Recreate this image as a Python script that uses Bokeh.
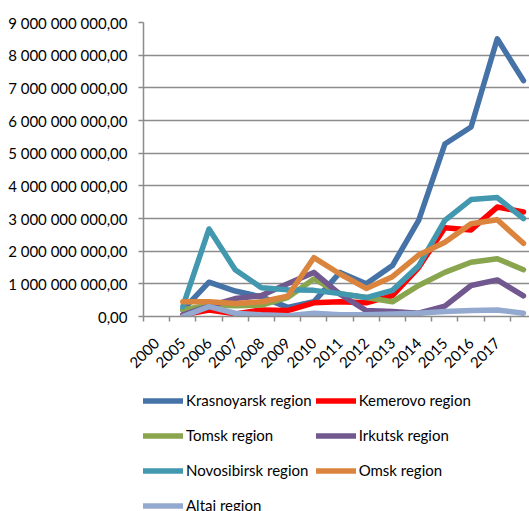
import numpy as np
from bokeh.plotting import figure
from bokeh.layouts import column
from bokeh.models import Range1d, FixedTicker, Legend, LegendItem
from bokeh.embed import file_html
from bokeh.resources import INLINE

nan = float("nan")

# band labels on the x axis (last band is unlabeled in the picture)
categories = ["2000", "2005", "2006", "2007", "2008", "2009", "2010", "2011",
              "2012", "2013", "2014", "2015", "2016", "2017", ""]

krasnoyarsk = [nan, 0.20e9, 1.05e9, 0.78e9, 0.60e9, 0.28e9, 0.45e9, 1.35e9, 1.00e9, 1.56e9, 2.94e9, 5.28e9, 5.80e9, 8.50e9, 7.22e9]
kemerovo    = [nan, 0.05e9, 0.20e9, 0.08e9, 0.20e9, 0.18e9, 0.42e9, 0.45e9, 0.42e9, 0.64e9, 1.50e9, 2.72e9, 2.65e9, 3.35e9, 3.20e9]
tomsk       = [nan, 0.20e9, 0.35e9, 0.33e9, 0.35e9, 0.58e9, 1.15e9, 0.70e9, 0.58e9, 0.45e9, 0.95e9, 1.35e9, 1.66e9, 1.77e9, 1.43e9]
irkutsk     = [nan, 0.05e9, 0.32e9, 0.55e9, 0.64e9, 1.00e9, 1.35e9, 0.68e9, 0.18e9, 0.15e9, 0.10e9, 0.32e9, 0.95e9, 1.12e9, 0.63e9]
novosibirsk = [nan, 0.30e9, 2.68e9, 1.43e9, 0.88e9, 0.82e9, 0.80e9, 0.70e9, 0.58e9, 0.80e9, 1.55e9, 2.94e9, 3.58e9, 3.64e9, 3.00e9]
omsk        = [nan, 0.45e9, 0.45e9, 0.40e9, 0.45e9, 0.62e9, 1.80e9, 1.30e9, 0.86e9, 1.22e9, 1.88e9, 2.27e9, 2.84e9, 2.96e9, 2.24e9]
altai       = [nan, 0.00e9, 0.30e9, 0.10e9, 0.05e9, 0.02e9, 0.10e9, 0.05e9, 0.05e9, 0.08e9, 0.10e9, 0.15e9, 0.18e9, 0.20e9, 0.10e9]

series_names = ["Krasnoyarsk region", "Kemerovo region", "Tomsk region", "Irkutsk region",
                "Novosibirsk region", "Omsk region", "Altai region"]
series_colors = ["#4572A7", "#FF0000", "#89A54E", "#71588F", "#4198AF", "#DB843D", "#93A9CF"]
series_values = [krasnoyarsk, kemerovo, tomsk, irkutsk, novosibirsk, omsk, altai]

y_ticks = [0, 1e9, 2e9, 3e9, 4e9, 5e9, 6e9, 7e9, 8e9, 9e9]
y_labels = ["0,00", "1 000 000 000,00", "2 000 000 000,00", "3 000 000 000,00",
            "4 000 000 000,00", "5 000 000 000,00", "6 000 000 000,00",
            "7 000 000 000,00", "8 000 000 000,00", "9 000 000 000,00"]

FONT = "Lato"
FS = "15px"
GRID = "#8c8c8c"
LW = 5.5

n = len(categories)
band_centers = np.arange(n) + 0.5
band_edges = list(range(n + 1))

# ---------------- chart ----------------
p = figure(width=529, height=378, output_backend="svg", toolbar_location=None,
           x_range=Range1d(0, 14.73), y_range=Range1d(0, 9e9),
           min_border_left=143, min_border_right=0, min_border_top=22,
           min_border_bottom=62)
p.outline_line_color = None
p.background_fill_color = "white"
p.border_fill_color = "white"

p.xaxis.ticker = FixedTicker(ticks=list(band_centers), minor_ticks=band_edges)
p.xaxis.major_label_overrides = {float(c): lab for c, lab in zip(band_centers, categories)}
p.xaxis.major_label_orientation = np.pi / 4
p.xaxis.major_tick_line_color = None
p.xaxis.major_tick_out = 5
p.xaxis.major_tick_in = 0
p.xaxis.minor_tick_line_color = GRID
p.xaxis.minor_tick_line_width = 1.5
p.xaxis.minor_tick_out = 5
p.xaxis.minor_tick_in = 0
p.xaxis.axis_line_color = GRID
p.xaxis.axis_line_width = 1.5
p.xaxis.major_label_text_font = FONT
p.xaxis.major_label_text_font_size = FS
p.xaxis.major_label_text_color = "black"
p.xaxis.major_label_standoff = 19
p.xgrid.grid_line_color = None

p.yaxis.ticker = FixedTicker(ticks=y_ticks)
p.yaxis.major_label_overrides = {float(t): lab for t, lab in zip(y_ticks, y_labels)}
p.yaxis.major_tick_line_color = GRID
p.yaxis.major_tick_line_width = 1.5
p.yaxis.major_tick_out = 5
p.yaxis.major_tick_in = 0
p.yaxis.minor_tick_line_color = None
p.yaxis.axis_line_color = GRID
p.yaxis.axis_line_width = 1.5
p.yaxis.major_label_text_font = FONT
p.yaxis.major_label_text_font_size = FS
p.yaxis.major_label_text_color = "black"
p.yaxis.major_label_standoff = 11
p.ygrid.grid_line_color = GRID
p.ygrid.grid_line_width = 1.5

for name, color, vals in zip(series_names, series_colors, series_values):
    p.line(band_centers, vals, line_color=color, line_width=LW,
           line_cap="round", line_join="round")

# ---------------- legend (separate strip below the chart) ----------------
lg = figure(width=529, height=133, output_backend="svg", toolbar_location=None,
            x_range=Range1d(0, 1), y_range=Range1d(0, 1),
            min_border=0, x_axis_location=None, y_axis_location=None)
lg.outline_line_color = None
lg.xgrid.grid_line_color = None
lg.ygrid.grid_line_color = None

items = []
for name, color in zip(series_names, series_colors):
    r = lg.line([nan], [nan], line_color=color, line_width=LW, line_cap="round")
    items.append(LegendItem(label=name, renderers=[r]))

legend = Legend(items=items, location=(0, -9.5), orientation="horizontal", ncols=2,
                glyph_width=40, glyph_height=31, label_height=31, label_standoff=3,
                spacing=4, padding=0, margin=0,
                label_text_font=FONT, label_text_font_size=FS,
                label_text_color="black", border_line_color=None,
                background_fill_alpha=0)
lg.add_layout(legend, "center")

layout = column(p, lg, spacing=0)
open("out.html", "w").write(file_html(layout, INLINE))
